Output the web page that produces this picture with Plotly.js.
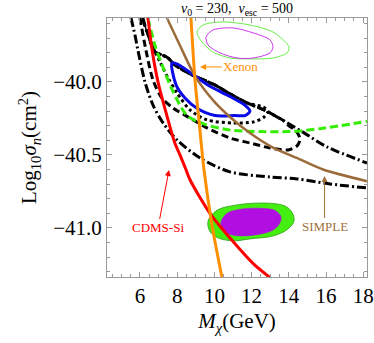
<!DOCTYPE html>
<html>
<head>
<meta charset="utf-8">
<script src="https://cdn.plot.ly/plotly-3.0.1.min.js"></script>
<style>
  body { margin: 0; padding: 0; background: #fff; }
  #plot { width: 374px; height: 343px; }
</style>
</head>
<body>
<div id="plot"></div>
<script>
// values (M_chi in GeV, log10 sigma in cm^2)
var redX = [6.43, 6.65, 6.97, 7.51, 7.88, 8.15, 8.47, 8.69, 9.76, 11.05, 12.13, 12.99];
var redY = [-39.56, -39.78, -40.0, -40.26, -40.42, -40.50, -40.60, -40.67, -40.90, -41.10, -41.25, -41.34];

var xenonX = [8.74, 8.96, 9.20, 9.44, 9.87, 10.41];
var xenonY = [-39.56, -39.99, -40.30, -40.60, -40.98, -41.34];

var simpleX = [7.45, 8.15, 8.96, 10.03, 10.84, 11.91, 13.15, 14.60, 15.84, 18.2];
var simpleY = [-39.562, -39.75, -39.96, -40.14, -40.24, -40.35, -40.45, -40.53, -40.60, -40.68];

var greenX = [6.43, 6.81, 7.24, 7.72, 8.53, 9.49, 10.84, 12.45, 14.06, 15.68, 18.2];
var greenY = [-39.562, -39.75, -39.90, -40.05, -40.23, -40.29, -40.33, -40.34, -40.34, -40.32, -40.27];

var blueX = [7.72, 8.04, 8.96, 9.76, 10.84, 11.65, 11.91, 11.65, 11.11, 10.03, 9.06, 8.42, 7.94, 7.72];
var blueY = [-39.87, -39.88, -39.96, -40.03, -40.10, -40.16, -40.20, -40.23, -40.23, -40.23, -40.18, -40.11, -40.02, -39.87];

// shared upper edge of the black contours
var upperX = [6.16, 6.27, 6.54, 6.81, 7.18, 7.51, 7.88, 8.80, 10.03, 10.84, 11.75, 12.67, 13.74, 14.82, 16.05, 18.2];
var upperY = [-39.562, -39.616, -39.712, -39.795, -39.815, -39.836, -39.884, -39.952, -40.021, -40.082, -40.144, -40.192, -40.267, -40.349, -40.445, -40.555];

var outerX = [5.52, 5.73, 5.89, 6.27, 6.70, 7.24, 7.99, 9.23, 10.84, 12.99, 14.44, 16.22, 18.2];
var outerY = [-39.562, -39.678, -39.781, -40.0, -40.158, -40.281, -40.397, -40.521, -40.616, -40.651, -40.664, -40.699, -40.726];

var dashLoX = [6.0, 6.32, 6.70, 7.18, 7.77, 8.69, 9.60, 10.84, 11.91, 12.99, 13.96, 14.44, 14.60, 14.39, 13.96];
var dashLoY = [-39.562, -39.781, -39.986, -40.110, -40.178, -40.247, -40.315, -40.384, -40.418, -40.452, -40.466, -40.438, -40.390, -40.336, -40.295];

var dotLoX = [6.54, 7.08, 7.51, 7.99, 8.69, 9.60, 11.0, 12.08, 12.67, 12.88, 12.61];
var dotLoY = [-39.726, -39.863, -39.973, -40.075, -40.192, -40.260, -40.281, -40.274, -40.240, -40.199, -40.171];

var ellOutX = [9.06, 9.39, 10.46, 11.91, 13.15, 14.01, 13.90, 13.15, 11.91, 10.84, 9.92, 9.33, 9.06];
var ellOutY = [-39.658, -39.610, -39.589, -39.610, -39.658, -39.760, -39.801, -39.836, -39.842, -39.836, -39.795, -39.726, -39.658];

var ellInX = [9.55, 9.92, 11.0, 12.08, 12.99, 13.15, 12.99, 12.08, 11.22, 10.30, 9.66, 9.55];
var ellInY = [-39.692, -39.644, -39.630, -39.664, -39.712, -39.760, -39.801, -39.836, -39.836, -39.801, -39.747, -39.692];

var blobOutX = [9.66, 10.14, 11.22, 12.83, 13.80, 14.17, 14.28, 13.90, 13.15, 11.91, 11.0, 10.19, 9.76, 9.66];
var blobOutY = [-40.952, -40.879, -40.842, -40.830, -40.850, -40.893, -40.952, -41.012, -41.055, -41.075, -41.088, -41.068, -41.024, -40.952];

var blobInX = [10.35, 10.68, 11.38, 12.45, 13.26, 13.58, 13.47, 13.10, 12.29, 11.22, 10.57, 10.35];
var blobInY = [-40.966, -40.900, -40.872, -40.865, -40.880, -40.925, -40.976, -41.018, -41.046, -41.053, -41.030, -40.966];

var serif = '"Liberation Serif", "Times New Roman", "DejaVu Serif", serif';

// lower branch followed by the upper edge walked back to the start
function closeOnUpper(loX, loY, fromIdx, toIdx) {
    var xs = loX.slice(), ys = loY.slice();
    for (var i = fromIdx; i >= toIdx; i--) {
        xs.push(upperX[i]);
        ys.push(upperY[i]);
    }
    return [xs, ys];
}

var dashed = closeOnUpper(dashLoX, dashLoY, 12, 0);
var dotted = closeOnUpper(dotLoX, dotLoY, 10, 2);

function line(x, y, color, width, dash) {
    return {x: x, y: y, type: 'scatter', mode: 'lines', hoverinfo: 'skip',
        line: {color: color, width: width, dash: dash || 'solid', shape: 'spline', smoothing: 0.8}};
}

var data = [
    {x: blobOutX, y: blobOutY, type: 'scatter', mode: 'lines', fill: 'toself', fillcolor: '#44ee11',
        line: {color: '#2f9c14', width: 0.8, shape: 'spline'}},
    {x: blobInX, y: blobInY, type: 'scatter', mode: 'lines', fill: 'toself', fillcolor: '#b10fe2',
        line: {color: '#b10fe2', width: 0.5, shape: 'spline'}},
    line(ellOutX, ellOutY, '#66ee44', 1),
    line(ellInX, ellInY, '#cc33ee', 1),
    line(outerX, outerY, '#000', 3, '9px,3px,2px,3px'),
    line(upperX, upperY, '#000', 3, '9px,3px,2px,3px'),
    line(dashed[0], dashed[1], '#000', 3, '7px,4px'),
    line(dotted[0], dotted[1], '#000', 3, '3px,3px'),
    line(upperX.slice(0, 10), upperY.slice(0, 10), '#000', 1.5),
    line(greenX, greenY, '#33ee00', 3, '8px,4px'),
    line(blueX, blueY, '#0a0ae6', 3),
    line(simpleX, simpleY, '#9c6b3a', 2.5),
    line(redX, redY, '#ff0000', 3),
    line(xenonX, xenonY, '#ff8f00', 3)
];

var layout = {
    width: 374,
    height: 343,
    margin: {l: 107, r: 7, t: 18, b: 66},
    showlegend: false,
    paper_bgcolor: '#fff',
    plot_bgcolor: '#fff',
    font: {family: serif, color: '#000'},
    title: {
        text: '<i>v</i><sub>0</sub> = 230,  <i>v</i><sub>esc</sub> = 500',
        font: {family: serif, size: 14},
        x: 0.5, xref: 'paper', y: 0.977, yanchor: 'middle'
    },
    xaxis: {
        range: [4.23, 18.2],
        tick0: 0, dtick: 2,
        ticks: 'inside', ticklen: 5, tickcolor: '#999',
        minor: {dtick: 0.5, ticks: 'inside', ticklen: 3, tickcolor: '#999'},
        showline: true, linecolor: '#999', linewidth: 1, mirror: 'allticks',
        showgrid: false, zeroline: false,
        tickfont: {family: serif, size: 21},
        title: {text: '<i>M</i><sub><i>χ</i></sub>(GeV)', font: {family: serif, size: 21}, standoff: 6}
    },
    yaxis: {
        range: [-41.336, -39.562],
        tick0: -40, dtick: 0.5, tickformat: '.1f',
        ticks: 'inside', ticklen: 5, tickcolor: '#999',
        minor: {dtick: 0.1, ticks: 'inside', ticklen: 3, tickcolor: '#999'},
        showline: true, linecolor: '#999', linewidth: 1, mirror: 'allticks',
        showgrid: false, zeroline: false,
        tickfont: {family: serif, size: 21},
        title: {text: 'Log<sub>10</sub><i>σ</i><sub><i>n</i></sub>(cm<sup>2</sup>)', font: {family: serif, size: 21}, standoff: 10}
    },
    annotations: [
        {x: 7.56, y: -40.603, ax: 6.97, ay: -41.0, axref: 'x', ayref: 'y',
            text: 'CDMS-Si', font: {family: serif, size: 13, color: '#ff0000'},
            showarrow: true, arrowcolor: '#ff0000', arrowwidth: 1, arrowhead: 2, arrowsize: 1.2, standoff: 0},
        {x: 9.23, y: -39.897, ax: 11.42, ay: -39.897, axref: 'x', ayref: 'y',
            text: 'Xenon', font: {family: serif, size: 13, color: '#ff8f00'},
            showarrow: true, arrowcolor: '#ff8f00', arrowwidth: 1, arrowhead: 2, arrowsize: 1.2, standoff: 0},
        {x: 15.92, y: -40.644, ax: 15.92, ay: -40.993, axref: 'x', ayref: 'y',
            text: 'SIMPLE', font: {family: serif, size: 13, color: '#a0703c'},
            showarrow: true, arrowcolor: '#a0703c', arrowwidth: 1, arrowhead: 2, arrowsize: 1.2, standoff: 0}
    ]
};

Plotly.newPlot('plot', data, layout, {staticPlot: true, displayModeBar: false});
</script>
</body>
</html>
